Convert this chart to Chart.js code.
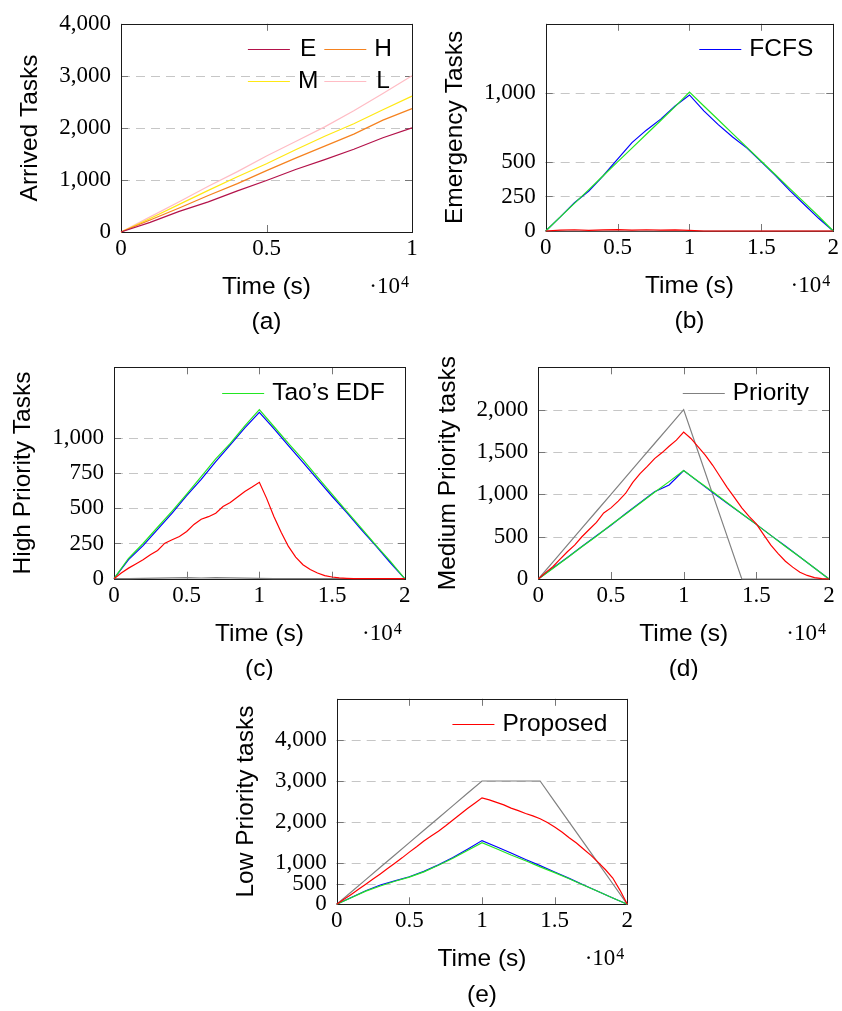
<!DOCTYPE html>
<html>
<head>
<meta charset="utf-8">
<script src="https://cdn.jsdelivr.net/npm/chart.js@4.4.1/dist/chart.umd.min.js"></script>
<style>
  html, body { margin: 0; padding: 0; background: #fff; }
  #page { position: relative; width: 842px; height: 1011px; overflow: hidden; }
  #page canvas { position: absolute; }
</style>
</head>
<body>
<div id="page">
  <canvas id="chartA"></canvas>
  <canvas id="chartB"></canvas>
  <canvas id="chartC"></canvas>
  <canvas id="chartD"></canvas>
  <canvas id="chartE"></canvas>
</div>
<script>
// Time axes (seconds)
const timeA = [0, 1000, 2000, 3000, 4000, 5000, 6000, 7000, 8000, 9000, 10000];
const timeCoarse = [0, 1000, 2000, 3000, 4000, 5000, 6000, 7000, 8000, 9000, 10000,
  11000, 12000, 13000, 14000, 15000, 16000, 17000, 18000, 19000, 20000];
const timeFine = [0, 500, 1000, 1500, 2000, 2500, 3000, 3500, 4000, 4500, 5000,
  5500, 6000, 6500, 7000, 7500, 8000, 8500, 9000, 9500, 10000,
  10500, 11000, 11500, 12000, 12500, 13000, 13500, 14000, 14500, 15000,
  15500, 16000, 16500, 17000, 17500, 18000, 18500, 19000, 19500, 20000];

// (a) Arrived tasks
const arrivedE = [0, 185, 395, 580, 790, 990, 1200, 1390, 1590, 1810, 2000];
const arrivedH = [0, 230, 460, 700, 930, 1180, 1420, 1650, 1880, 2150, 2370];
const arrivedM = [0, 260, 530, 800, 1060, 1310, 1580, 1840, 2080, 2350, 2610];
const arrivedL = [0, 290, 580, 880, 1160, 1460, 1740, 2020, 2330, 2660, 3000];

// (b) Emergency tasks
const emergFcfs = [0, 100, 205, 290, 400, 520, 640, 730, 810, 905, 985, 870, 770, 680, 600, 500, 400, 290, 190, 90, 0];
const emergEdf = [0, 100, 200, 300, 400, 500, 600, 700, 800, 900, 1005, 905, 805, 705, 605, 505, 405, 305, 205, 105, 0];
const emergPriority = [0, 0, 0, 0, 0, 0, 0, 0, 0, 0, 0, 0, 0, 0, 0, 0, 0, 0, 0, 0, 0];
const emergProposed = [0, 6, 9, 5, 8, 10, 7, 9, 6, 8, 5, 0, 0, 0, 0, 0, 0, 0, 0, 0, 0];

// (c) High priority tasks
const highFcfs = [0, 135, 235, 350, 465, 590, 705, 830, 950, 1070, 1180, 1065, 945, 825, 705, 585, 470, 350, 235, 115, 0];
const highEdf = [0, 145, 250, 365, 480, 600, 725, 850, 960, 1085, 1200, 1080, 960, 845, 720, 600, 480, 360, 240, 125, 0];
const highPriority = [0, 1, 3, 4, 6, 8, 5, 7, 6, 4, 2, 0, 0, 0, 0, 0, 0, 0, 0, 0, 0];
const highProposed = [0, 40, 75, 105, 134, 170, 200, 252, 276, 300, 335, 385, 422, 440, 465, 512, 540, 580, 618, 650, 684,
  570, 441, 330, 229, 153, 99, 65, 40, 22, 12, 6, 3, 1, 0, 0, 0, 0, 0, 0, 0];

// (d) Medium priority tasks
const medFcfs = [0, 130, 255, 385, 510, 635, 770, 900, 1030, 1110, 1280, 1150, 1020, 895, 770, 645, 515, 390, 260, 130, 0];
const medEdf = [0, 125, 250, 380, 505, 640, 765, 895, 1025, 1150, 1280, 1155, 1030, 900, 770, 645, 515, 385, 260, 130, 0];
const medPriority = [0, 200, 400, 600, 800, 1000, 1200, 1400, 1600, 1800, 2000, 1500, 1000, 500, 0, 0, 0, 0, 0, 0, 0];
const medProposed = [0, 75, 145, 235, 322, 400, 499, 585, 668, 780, 840, 920, 1010, 1140, 1245, 1330, 1422, 1490, 1567, 1640, 1736,
  1660, 1560, 1460, 1343, 1210, 1080, 960, 840, 740, 650, 525, 400, 300, 210, 140, 80, 42, 16, 4, 0];

// (e) Low priority tasks
const lowFcfs = [0, 165, 330, 470, 570, 670, 800, 960, 1140, 1340, 1550, 1400, 1250, 1090, 940, 785, 630, 470, 310, 155, 0];
const lowEdf = [0, 160, 320, 445, 560, 660, 790, 950, 1120, 1310, 1500, 1350, 1200, 1060, 910, 770, 620, 465, 310, 155, 0];
const lowPriority = [0, 300, 600, 900, 1200, 1500, 1800, 2100, 2400, 2700, 3000, 3000, 3000, 3000, 3000, 2500, 2000, 1500, 1000, 500, 0];
const lowProposed = [0, 120, 240, 365, 490, 615, 740, 870, 1000, 1130, 1270, 1400, 1540, 1660, 1780, 1910, 2050, 2190, 2330, 2460, 2590,
  2540, 2480, 2420, 2340, 2280, 2210, 2150, 2080, 1990, 1880, 1760, 1620, 1490, 1340, 1190, 1020, 840, 640, 340, 0];

// Tick values
const xTicksA = [0, 5000, 10000];
const xTicks = [0, 5000, 10000, 15000, 20000];
const yTicksA = [0, 1000, 2000, 3000, 4000];
const yTicksB = [0, 250, 500, 1000];
const yTicksC = [0, 250, 500, 750, 1000];
const yTicksD = [0, 500, 1000, 1500, 2000];
const yTicksE = [0, 500, 1000, 2000, 3000, 4000];

const FONT_SANS = '24.5px "Liberation Sans", Arial, sans-serif';
const FONT_SERIF = '23px "Liberation Serif", "Times New Roman", serif';
const FONT_SUP = '16px "Liberation Serif", "Times New Roman", serif';
const Y_AXIS_W = 105;
const X_AXIS_H = 70;

const C_FCFS = '#0000ff';
const C_EDF = '#22e622';
const C_PRIORITY = '#808080';
const C_PROPOSED = '#ff0000';

Chart.defaults.color = '#000';

// grid, frame, legend and labels drawn the pgfplots way
const figurePlugin = {
  id: 'figure',
  beforeDatasetsDraw(chart) {
    const { ctx, chartArea: a, scales: { x, y } } = chart;
    ctx.save();
    ctx.lineWidth = 1;
    ctx.strokeStyle = '#c6c6c6';
    ctx.setLineDash([9, 6]);
    y.ticks.forEach(t => {
      const py = Math.round(y.getPixelForValue(t.value)) + 0.5;
      ctx.beginPath();
      ctx.moveTo(a.left, py);
      ctx.lineTo(a.right, py);
      ctx.stroke();
    });
    ctx.setLineDash([]);
    ctx.strokeStyle = '#777';
    x.ticks.forEach(t => {
      const px = Math.round(x.getPixelForValue(t.value)) + 0.5;
      ctx.beginPath();
      ctx.moveTo(px, a.bottom);
      ctx.lineTo(px, a.bottom - 7);
      ctx.moveTo(px, a.top);
      ctx.lineTo(px, a.top + 7);
      ctx.stroke();
    });
    y.ticks.forEach(t => {
      const py = Math.round(y.getPixelForValue(t.value)) + 0.5;
      ctx.beginPath();
      ctx.moveTo(a.left, py);
      ctx.lineTo(a.left + 7, py);
      ctx.moveTo(a.right, py);
      ctx.lineTo(a.right - 7, py);
      ctx.stroke();
    });
    ctx.strokeStyle = '#1a1a1a';
    const l = Math.round(a.left) + 0.5, t = Math.round(a.top) + 0.5;
    ctx.strokeRect(l, t, Math.round(a.right) - Math.round(a.left), Math.round(a.bottom) - Math.round(a.top));
    ctx.restore();
  },
  afterDraw(chart, args, opts) {
    const { ctx, chartArea: a } = chart;
    ctx.save();

    // legend
    const items = opts.legend.map(lbl => chart.data.datasets.find(d => d.label === lbl));
    const cols = opts.columns;
    const rows = Math.ceil(items.length / cols);
    ctx.font = FONT_SANS;
    const colText = [];
    for (let c = 0; c < cols; c++) {
      let w = 0;
      for (let r = 0; r < rows; r++) {
        const it = items[r * cols + c];
        if (it) w = Math.max(w, ctx.measureText(it.label).width);
      }
      colText.push(w);
    }
    const lineLen = 42, lineGap = 8, colGap = 6;
    const total = colText.reduce((s, w) => s + lineLen + lineGap + w, 0) + colGap * (cols - 1);
    ctx.textBaseline = 'middle';
    ctx.textAlign = 'center';
    items.forEach((it, i) => {
      const r = Math.floor(i / cols), c = i % cols;
      let x0 = a.right - 20 - total;
      for (let k = 0; k < c; k++) x0 += lineLen + lineGap + colText[k] + colGap;
      const yy = a.top + 25.5 + r * 32;
      ctx.strokeStyle = it.borderColor;
      ctx.lineWidth = 1.2;
      ctx.beginPath();
      ctx.moveTo(x0, Math.round(yy) + 0.5);
      ctx.lineTo(x0 + lineLen, Math.round(yy) + 0.5);
      ctx.stroke();
      ctx.fillStyle = '#000';
      ctx.fillText(it.label, x0 + lineLen + lineGap + colText[c] / 2, yy);
    });

    // x multiplier
    ctx.textBaseline = 'alphabetic';
    ctx.textAlign = 'right';
    ctx.font = FONT_SUP;
    const supW = ctx.measureText('4').width;
    ctx.fillText('4', a.right - 3, a.bottom + 55);
    ctx.font = FONT_SERIF;
    ctx.fillText('\u00b710', a.right - 4 - supW, a.bottom + 61);

    // caption
    ctx.font = FONT_SANS;
    ctx.textAlign = 'center';
    ctx.textBaseline = 'middle';
    ctx.fillText(opts.caption, (a.left + a.right) / 2, a.bottom + 90.5);
    ctx.restore();
  }
};

function series(label, times, values, color, order) {
  return {
    label,
    data: times.map((t, i) => ({ x: t, y: values[i] })),
    borderColor: color,
    backgroundColor: color,
    borderWidth: 1.2,
    pointRadius: 0,
    tension: 0,
    fill: false,
    clip: false,
    order
  };
}

function makeChart(id, box, plot, cfg) {
  const canvas = document.getElementById(id);
  canvas.width = box.w;
  canvas.height = box.h;
  canvas.style.left = box.x + 'px';
  canvas.style.top = box.y + 'px';
  const fmt = v => v.toLocaleString('en-US');
  return new Chart(canvas, {
    type: 'line',
    data: { datasets: cfg.datasets },
    options: {
      responsive: false,
      animation: false,
      events: [],
      layout: {
        padding: {
          left: plot.left - box.x - Y_AXIS_W,
          top: plot.top - box.y,
          right: box.x + box.w - plot.right,
          bottom: box.y + box.h - plot.bottom - X_AXIS_H
        }
      },
      plugins: {
        legend: { display: false },
        tooltip: { enabled: false },
        figure: { legend: cfg.legend, columns: cfg.columns || 1, caption: cfg.caption }
      },
      scales: {
        x: {
          type: 'linear',
          min: 0,
          max: cfg.xMax,
          grid: { display: false, drawTicks: false },
          border: { display: false },
          afterBuildTicks: s => { s.ticks = cfg.xTicks.map(v => ({ value: v })); },
          afterFit: s => { s.height = X_AXIS_H; },
          ticks: {
            autoSkip: false,
            maxRotation: 0,
            padding: 3,
            font: { family: '"Liberation Serif", "Times New Roman", serif', size: 23 },
            callback: v => String(v / 10000)
          },
          title: {
            display: true,
            text: 'Time (s)',
            padding: 0,
            font: { family: '"Liberation Sans", Arial, sans-serif', size: 24.5 }
          }
        },
        y: {
          min: 0,
          max: cfg.yMax,
          grid: { display: false, drawTicks: false },
          border: { display: false },
          afterBuildTicks: s => { s.ticks = cfg.yTicks.map(v => ({ value: v })); },
          afterFit: s => { s.width = Y_AXIS_W; },
          ticks: {
            padding: 10,
            font: { family: '"Liberation Serif", "Times New Roman", serif', size: 23 },
            callback: fmt
          },
          title: {
            display: true,
            text: cfg.yTitle,
            padding: 0,
            font: { family: '"Liberation Sans", Arial, sans-serif', size: 24.5 }
          }
        }
      }
    },
    plugins: [figurePlugin]
  });
}

function schedulerSeries(fcfs, edf, priority, proposed, proposedTimes) {
  return [
    series('Proposed', proposedTimes, proposed, C_PROPOSED, 0),
    series("Tao\u2019s EDF", timeCoarse, edf, C_EDF, 1),
    series('FCFS', timeCoarse, fcfs, C_FCFS, 2),
    series('Priority', timeCoarse, priority, C_PRIORITY, 3)
  ];
}

makeChart('chartA', { x: 0, y: 0, w: 421, h: 340 }, { left: 121, top: 19, right: 412, bottom: 232 }, {
  datasets: [
    series('E', timeA, arrivedE, '#b3124a', 0),
    series('H', timeA, arrivedH, '#f5821f', 1),
    series('M', timeA, arrivedM, '#ffe814', 2),
    series('L', timeA, arrivedL, '#ffbcc4', 3)
  ],
  xMax: 10000, xTicks: xTicksA, yMax: 4000, yTicks: yTicksA,
  yTitle: 'Arrived Tasks', legend: ['E', 'H', 'M', 'L'], columns: 2, caption: '(a)'
});

makeChart('chartB', { x: 421, y: 0, w: 421, h: 340 }, { left: 545.7, top: 19, right: 835.7, bottom: 231 }, {
  datasets: schedulerSeries(emergFcfs, emergEdf, emergPriority, emergProposed, timeCoarse),
  xMax: 20000, xTicks: xTicks, yMax: 1500, yTicks: yTicksB,
  yTitle: 'Emergency Tasks', legend: ['FCFS'], caption: '(b)'
});

makeChart('chartC', { x: 0, y: 340, w: 421, h: 340 }, { left: 114, top: 367.3, right: 404.7, bottom: 578.7 }, {
  datasets: schedulerSeries(highFcfs, highEdf, highPriority, highProposed, timeFine),
  xMax: 20000, xTicks: xTicks, yMax: 1500, yTicks: yTicksC,
  yTitle: 'High Priority Tasks', legend: ["Tao\u2019s EDF"], caption: '(c)'
});

makeChart('chartD', { x: 421, y: 340, w: 421, h: 340 }, { left: 538.3, top: 367.3, right: 829, bottom: 579 }, {
  datasets: schedulerSeries(medFcfs, medEdf, medPriority, medProposed, timeFine),
  xMax: 20000, xTicks: xTicks, yMax: 2500, yTicks: yTicksD,
  yTitle: 'Medium Priority tasks', legend: ['Priority'], caption: '(d)'
});

makeChart('chartE', { x: 200, y: 675, w: 442, h: 336 }, { left: 336.7, top: 692.7, right: 627.3, bottom: 904.3 }, {
  datasets: schedulerSeries(lowFcfs, lowEdf, lowPriority, lowProposed, timeFine),
  xMax: 20000, xTicks: xTicks, yMax: 5000, yTicks: yTicksE,
  yTitle: 'Low Priority tasks', legend: ['Proposed'], caption: '(e)'
});
</script>
</body>
</html>
